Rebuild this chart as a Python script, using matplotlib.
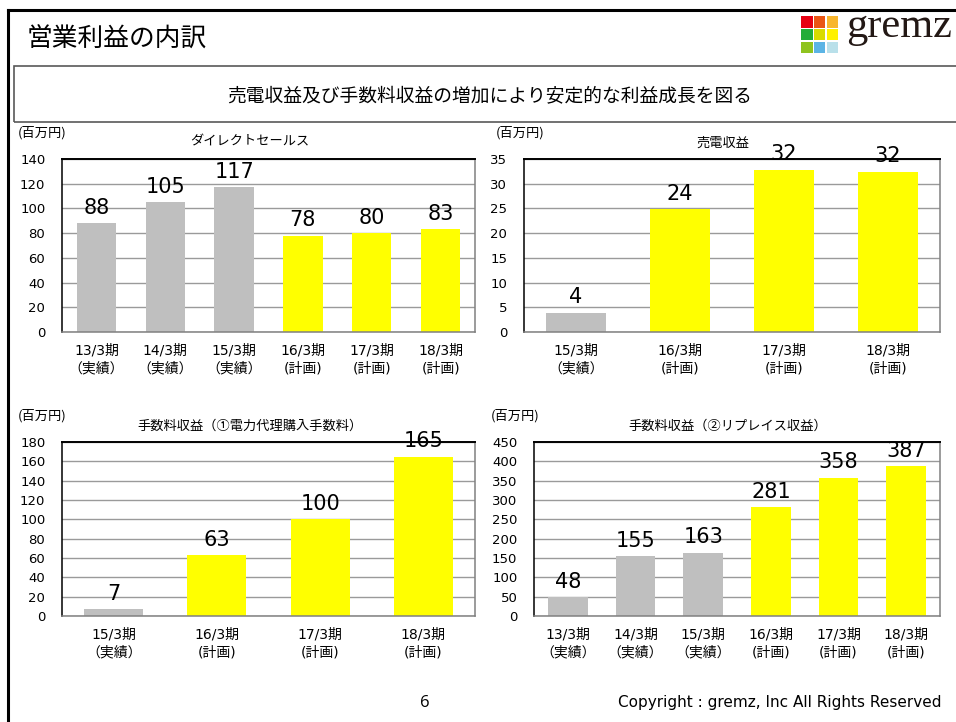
import matplotlib
matplotlib.use("Agg")
import matplotlib.pyplot as plt
from matplotlib.lines import Line2D
from matplotlib.patches import Rectangle

plt.rcParams['font.family'] = ['Noto Sans CJK JP', 'DejaVu Sans']
LATIN = ['DejaVu Sans', 'Noto Sans CJK JP']

W, H = 956, 722
GRAY = '#BFBFBF'
YELLOW = '#FFFF00'

# --- data ---
cats6 = ['13/3期\n（実績）', '14/3期\n（実績）', '15/3期\n（実績）',
         '16/3期\n(計画)', '17/3期\n(計画)', '18/3期\n(計画)']
cats4 = ['15/3期\n（実績）', '16/3期\n(計画)', '17/3期\n(計画)', '18/3期\n(計画)']

direct_sales = [88, 105, 117, 78, 80, 83]
direct_colors = [GRAY, GRAY, GRAY, YELLOW, YELLOW, YELLOW]

power_sales = [3.9, 24.8, 32.8, 32.4]
power_labels = ['4', '24', '32', '32']
power_colors = [GRAY, YELLOW, YELLOW, YELLOW]

fee_agency = [7, 63, 100, 165]
fee_agency_colors = [GRAY, YELLOW, YELLOW, YELLOW]

fee_replace = [48, 155, 163, 281, 358, 387]
fee_replace_colors = [GRAY, GRAY, GRAY, YELLOW, YELLOW, YELLOW]

logo_colors = ['#E60012', '#EA5514', '#F8B62D',
               '#22AC38', '#D9DB00', '#FFF100',
               '#8FC31F', '#5BB4E5', '#B9E0EA']


def fx(x):
    return x / W


def fy(y):
    return 1 - y / H


fig = plt.figure(figsize=(W / 100, H / 100), dpi=100)
fig.patch.set_facecolor('white')

# slide frame
fig.add_artist(Line2D([fx(8), 1], [fy(10), fy(10)], color='black', lw=2.2))
fig.add_artist(Line2D([fx(8), fx(8)], [0, fy(10)], color='black', lw=2.2))

# header
fig.text(fx(27), fy(40), '営業利益の内訳', fontsize=18.5, va='center', ha='left')

# logo
for k, c in enumerate(logo_colors):
    r, col = divmod(k, 3)
    x0 = 801 + col * 12.8
    y0 = 16 + r * 12.8
    fig.add_artist(Rectangle((fx(x0), fy(y0 + 11.6)), 11.6 / W, 11.6 / H,
                             transform=fig.transFigure, color=c, lw=0))
fig.text(fx(846), fy(37), 'gremz', fontsize=30.5, family='Liberation Serif',
         color='#231815', va='baseline', ha='left')

# message box
fig.add_artist(Rectangle((fx(14), fy(122)), (W + 10 - 14) / W, (122 - 66) / H,
                         transform=fig.transFigure, fill=False,
                         edgecolor='#595959', lw=1.2))
fig.text(fx(490), fy(97), '売電収益及び手数料収益の増加により安定的な利益成長を図る',
         fontsize=13.5, ha='center', va='center')


def bar_panel(box, cats, vals, colors, ymax, step, width, labels=None):
    x0, y0, x1, y1 = box
    ax = fig.add_axes([fx(x0), fy(y1), (x1 - x0) / W, (y1 - y0) / H])
    xs = range(len(cats))
    bars = ax.bar(xs, vals, width=width, color=colors, zorder=2)
    if labels is None:
        labels = [str(v) for v in vals]
    for b, lab in zip(bars, labels):
        ax.annotate(lab, (b.get_x() + b.get_width() / 2, b.get_height()),
                    xytext=(0, 4), textcoords='offset points',
                    ha='center', va='bottom', fontsize=15, family=LATIN,
                    annotation_clip=False)
    ax.set_xlim(-0.5, len(cats) - 0.5)
    ax.set_ylim(0, ymax)
    ax.set_yticks(range(0, ymax + 1, step))
    ax.set_xticks(list(xs))
    ax.set_xticklabels(cats, fontsize=10, family=LATIN, linespacing=1.4)
    for t in ax.get_yticklabels():
        t.set_family(LATIN)
        t.set_fontsize(9.5)
    ax.tick_params(axis='both', length=0)
    ax.tick_params(axis='y', pad=12)
    ax.tick_params(axis='x', pad=8)
    ax.yaxis.grid(True, color='#9A9A9A', lw=1, zorder=0)
    ax.set_axisbelow(True)
    ax.spines['top'].set_color('black')
    ax.spines['left'].set_color('black')
    ax.spines['right'].set_color('#808080')
    ax.spines['bottom'].set_color('#808080')
    for s in ax.spines.values():
        s.set_linewidth(1.1)
    ax.spines['top'].set_linewidth(1.4)
    return ax


bar_panel((62, 159, 475, 332), cats6, direct_sales, direct_colors, 140, 20, 0.57)
bar_panel((524, 159, 940, 332), cats4, power_sales, power_colors, 35, 5, 0.58,
          labels=power_labels)
bar_panel((62, 442, 475, 616), cats4, fee_agency, fee_agency_colors, 180, 20, 0.57)
bar_panel((534, 442, 940, 616), cats6, fee_replace, fee_replace_colors, 450, 50, 0.59)

# panel titles and units
fig.text(fx(250), fy(142), 'ダイレクトセールス', fontsize=9.5, ha='center', va='center')
fig.text(fx(723), fy(143), '売電収益', fontsize=9.5, ha='center', va='center')
fig.text(fx(250), fy(426), '手数料収益（①電力代理購入手数料）', fontsize=9.5,
         ha='center', va='center')
fig.text(fx(728), fy(426), '手数料収益（②リプレイス収益）', fontsize=9.5,
         ha='center', va='center')
for ux, uy in [(18, 133), (496, 133), (18, 416), (491, 416)]:
    fig.text(fx(ux), fy(uy), '(百万円)', fontsize=9.5, ha='left', va='center')

# footer
fig.text(fx(425), fy(703), '6', fontsize=12, family='Open Sans',
         ha='center', va='center')
fig.text(fx(942), fy(703), 'Copyright : gremz, Inc All Rights Reserved',
         fontsize=11, family=LATIN, ha='right', va='center')

fig.savefig('out.png', dpi=100)
